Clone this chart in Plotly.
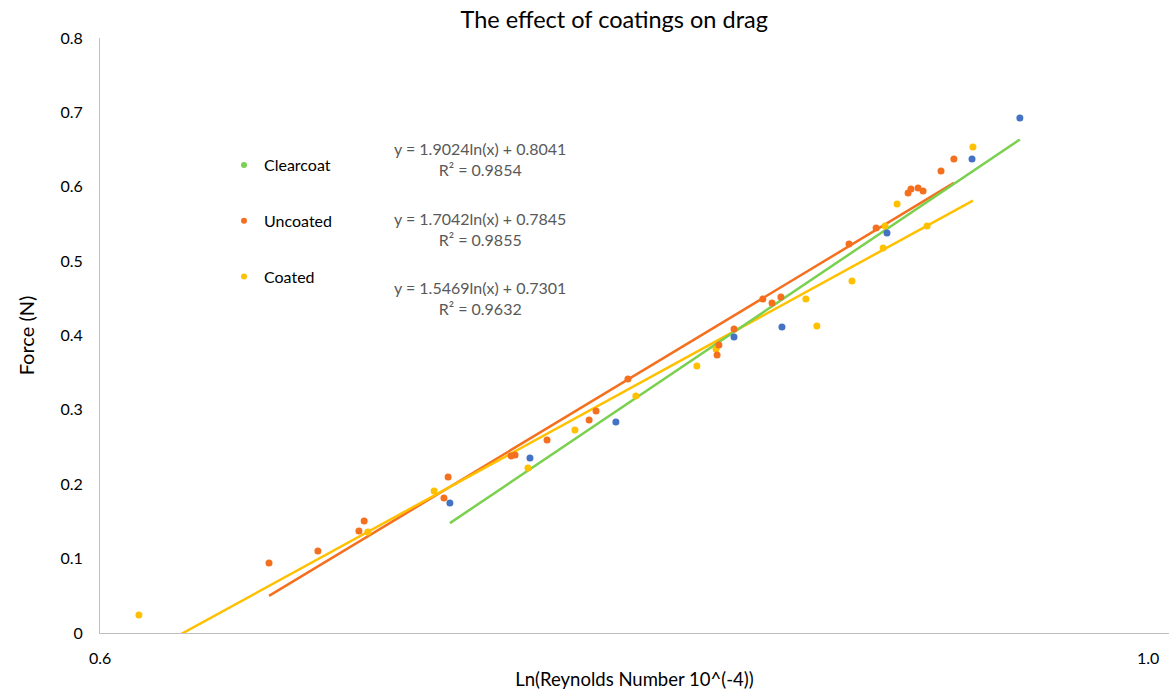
import numpy as np
import plotly.graph_objects as go

# ---- data ----
clearcoat_x = [0.7082, 0.7357, 0.7664, 0.8107, 0.8294, 0.8719, 0.9079, 0.9288]
clearcoat_y = [0.1748, 0.2353, 0.2837, 0.3980, 0.4114, 0.5378, 0.6373, 0.6924]

uncoated_x = [0.6498, 0.6651, 0.6782, 0.6799, 0.7062, 0.7076, 0.7291, 0.7305, 0.7417,
              0.7567, 0.7592, 0.7708, 0.8042, 0.8049, 0.8107, 0.8219, 0.8255, 0.8290,
              0.8563, 0.8674, 0.8807, 0.8819, 0.8849, 0.8870, 0.8946, 0.9001]
uncoated_y = [0.0941, 0.1103, 0.1371, 0.1506, 0.1815, 0.2097, 0.2380, 0.2393, 0.2595,
              0.2864, 0.2985, 0.3415, 0.3738, 0.3872, 0.4087, 0.4491, 0.4437, 0.4518,
              0.5230, 0.5445, 0.5916, 0.5970, 0.5983, 0.5943, 0.6212, 0.6373]

coated_x = [0.6108, 0.6811, 0.7029, 0.7350, 0.7516, 0.7737, 0.7965, 0.8038, 0.8389,
            0.8433, 0.8575, 0.8703, 0.8711, 0.8761, 0.8887, 0.9083]
coated_y = [0.0242, 0.1358, 0.1909, 0.2218, 0.2729, 0.3187, 0.3590, 0.3818, 0.4491,
            0.4128, 0.4733, 0.5176, 0.5472, 0.5768, 0.5472, 0.6534]

# logarithmic trendlines y = a*ln(x) + b (as printed on the chart)
clearcoat_a, clearcoat_b, clearcoat_r2 = 1.9024, 0.8041, 0.9854
uncoated_a, uncoated_b, uncoated_r2 = 1.7042, 0.7845, 0.9855
coated_a, coated_b, coated_r2 = 1.5469, 0.7301, 0.9632

series_names = ["Clearcoat", "Uncoated", "Coated"]
y_tick_vals = [0, 0.1, 0.2, 0.3, 0.4, 0.5, 0.6, 0.7, 0.8]
y_tick_text = ["0", "0.1", "0.2", "0.3", "0.4", "0.5", "0.6", "0.7", "0.8"]
x_tick_vals = [0.6, 1.0]
x_tick_text = ["0.6", "1.0"]
x_axis_range = [0.5996, 0.9971]

# ---- styles ----
FONT = "Lato, 'Open Sans', sans-serif"
BLUE = "#4472C4"
ORANGE = "#F4701F"
YELLOW = "#FFC000"
GREEN = "#7AD04F"
EQ_GREY = "#595959"

fig = go.Figure()

def trend(xs, a, b):
    xx = np.geomspace(min(xs), max(xs), 60)
    return xx, a * np.log(xx) + b

# trendlines
for xs, a, b, col in [(uncoated_x, uncoated_a, uncoated_b, ORANGE),
                      (coated_x, coated_a, coated_b, YELLOW),
                      (clearcoat_x, clearcoat_a, clearcoat_b, GREEN)]:
    tx, ty = trend(xs, a, b)
    fig.add_trace(go.Scatter(x=tx, y=ty, mode="lines", line=dict(color=col, width=2.5),
                             showlegend=False, hoverinfo="skip"))

# data points
for xs, ys, col, nm in [(coated_x, coated_y, YELLOW, "Coated"),
                        (uncoated_x, uncoated_y, ORANGE, "Uncoated"),
                        (clearcoat_x, clearcoat_y, BLUE, "Clearcoat")]:
    fig.add_trace(go.Scatter(x=xs, y=ys, mode="markers", name=nm,
                             marker=dict(color=col, size=7), showlegend=False))

# legend entries (as in the reference legend)
for nm, col in zip(series_names, [GREEN, ORANGE, YELLOW]):
    fig.add_trace(go.Scatter(x=[None], y=[None], mode="markers", name=nm,
                             legendgroup=nm, marker=dict(color=col, size=6)))

annotations = []
for (a, b, r2), yp in zip([(clearcoat_a, clearcoat_b, clearcoat_r2),
                           (uncoated_a, uncoated_b, uncoated_r2),
                           (coated_a, coated_b, coated_r2)], [0.796, 0.679, 0.5625]):
    annotations.append(dict(
        text=f"y = {a:.4f}ln(x) + {b:.4f}<br>R² = {r2:.4f}",
        xref="paper", yref="paper", x=0.3555, y=yp, xanchor="center", yanchor="middle",
        showarrow=False, align="center", font=dict(family=FONT, size=16, color=EQ_GREY)))

for xv, txt, xp in zip(x_tick_vals, x_tick_text, [0.0, 0.9804]):
    annotations.append(dict(text=txt, xref="paper", yref="paper", x=xp, y=-0.042,
                            xanchor="center", yanchor="middle", showarrow=False,
                            font=dict(family=FONT, size=16, color="black")))

fig.update_layout(
    width=1169, height=692,
    margin=dict(l=100, r=0, t=38, b=59),
    paper_bgcolor="white", plot_bgcolor="white",
    font=dict(family=FONT, size=16, color="black"),
    title=dict(text="The effect of coatings on drag", x=0.481, xref="paper",
               y=1 - 20 / 692, yref="container", xanchor="center", yanchor="middle",
               font=dict(family=FONT, size=23.5, color="black")),
    showlegend=True,
    legend=dict(x=0.116, y=0.815, xanchor="left", yanchor="top", tracegroupgap=32,
                itemwidth=30, bgcolor="rgba(0,0,0,0)",
                font=dict(family=FONT, size=16, color="black")),
    annotations=annotations,
)

fig.update_xaxes(type="log", range=[np.log10(x_axis_range[0]), np.log10(x_axis_range[1])],
                 showline=True, linecolor="#BFBFBF", linewidth=1,
                 showgrid=False, zeroline=False, ticks="",
                 tickvals=x_tick_vals, ticktext=x_tick_text, showticklabels=False,
                 automargin=False,
                 title=dict(text="Ln(Reynolds Number 10^(-4))", standoff=40,
                            font=dict(family=FONT, size=18.5, color="black")))
fig.update_yaxes(range=[0, 0.8], tickvals=y_tick_vals, ticktext=y_tick_text,
                 showline=True, linecolor="#BFBFBF", linewidth=1,
                 showgrid=False, zeroline=False, ticks="", ticklabelstandoff=13,
                 automargin=False,
                 tickfont=dict(family=FONT, size=16, color="black"),
                 title=dict(text="Force (N)", standoff=20,
                            font=dict(family=FONT, size=20, color="black")))

fig.write_html("out.html", config={"displayModeBar": False},
               post_script="document.body.style.margin='0';document.body.style.overflow='hidden';")
